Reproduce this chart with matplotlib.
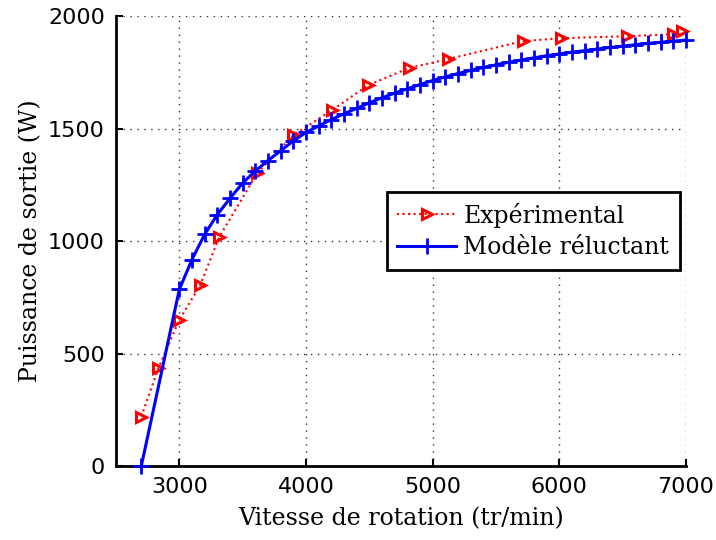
import matplotlib
matplotlib.use('Agg')
import matplotlib.pyplot as plt

# Experimental measurements
exp_speed = [2700, 2835, 3000, 3165, 3315, 3615, 3900, 4205, 4490, 4810,
             5120, 5710, 6010, 6535, 6900, 6970]
exp_power = [220, 436, 650, 804, 1018, 1302, 1471, 1582, 1693, 1769,
             1809, 1889, 1902, 1911, 1920, 1933]

# Reluctance model
mod_speed = [2700, 3000, 3100, 3200, 3300, 3400, 3500, 3600, 3700, 3800,
             3900, 4000, 4100, 4200, 4300, 4400, 4500, 4600, 4700, 4800,
             4900, 5000, 5100, 5200, 5300, 5400, 5500, 5600, 5700, 5800,
             5900, 6000, 6100, 6200, 6300, 6400, 6500, 6600, 6700, 6800,
             6900, 7000]
mod_power = [0, 785, 918, 1030, 1118, 1190, 1258, 1312, 1358, 1402,
             1445, 1483, 1512, 1540, 1566, 1590, 1615, 1637, 1658, 1677,
             1696, 1714, 1730, 1745, 1759, 1772, 1784, 1795, 1805, 1815,
             1824, 1832, 1840, 1847, 1854, 1861, 1867, 1873, 1879, 1884,
             1889, 1894]

xticks = [3000, 4000, 5000, 6000, 7000]
yticks = [0, 500, 1000, 1500, 2000]

SERIF = ['DejaVu Serif']

fig = plt.figure(figsize=(7.16, 5.4), dpi=100)
ax = fig.add_axes([0.162, 0.137, 0.796, 0.833])

ax.plot(exp_speed, exp_power, color='red', linestyle=':', linewidth=1.5,
        marker='>', markersize=7.5, markerfacecolor='none', markeredgecolor='red',
        markeredgewidth=2.2, label='Expérimental', clip_on=False, zorder=3)
ax.plot(mod_speed, mod_power, color='blue', linestyle='-', linewidth=2.2,
        marker='+', markersize=12, markeredgewidth=2, label='Modèle réluctant',
        clip_on=False, zorder=4)

ax.set_xlim(2500, 7000)
ax.set_ylim(0, 2000)
ax.set_xticks(xticks)
ax.set_yticks(yticks)
ax.grid(True, color='#333333', linestyle=(0, (1, 4)), linewidth=1.0)
ax.tick_params(direction='in', length=5, width=1.5, labelsize=16, pad=8)
for lab in ax.get_xticklabels() + ax.get_yticklabels():
    lab.set_family(['DejaVu Sans'])

for s in ['top', 'right']:
    ax.spines[s].set_visible(False)
for s in ['left', 'bottom']:
    ax.spines[s].set_linewidth(2)

ax.set_xlabel('Vitesse de rotation (tr/min)', fontsize=17, family=SERIF, labelpad=7)
ax.set_ylabel('Puissance de sortie (W)', fontsize=17, family=SERIF, labelpad=4)

leg = ax.legend(loc='upper left', bbox_to_anchor=(0.475, 0.609), prop={'family': SERIF, 'size': 17},
                fancybox=False, framealpha=1, edgecolor='black', handlelength=2.5,
                borderpad=0.45, labelspacing=0.35, handletextpad=0.3, borderaxespad=0)
leg.get_frame().set_linewidth(2)

fig.savefig('out.png', dpi=100)
